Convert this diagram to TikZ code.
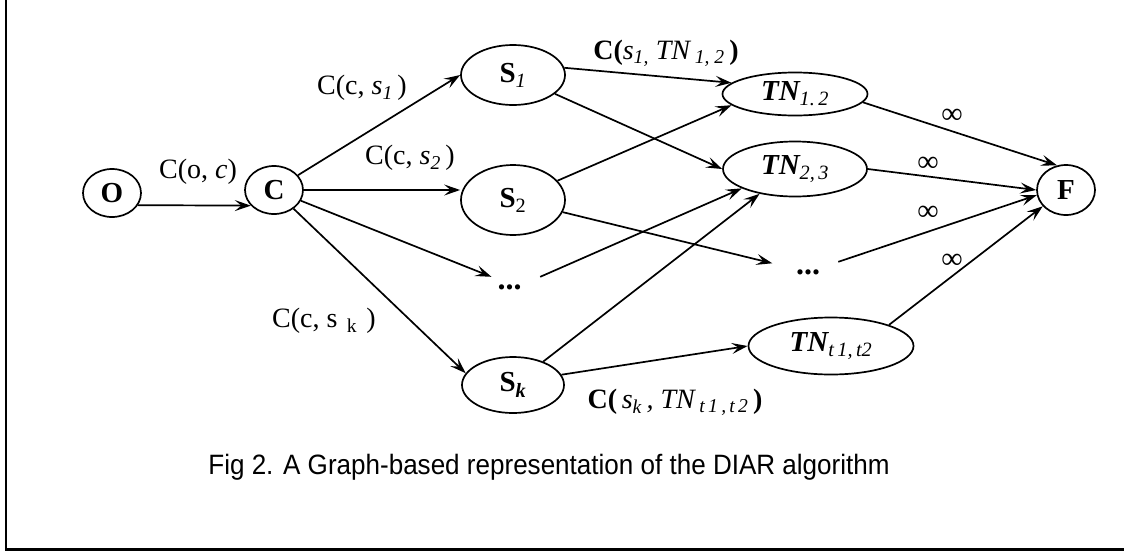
\documentclass[tikz,border=0pt]{standalone}
\usepackage{fontspec}
\setmainfont{Liberation Serif}
\newfontfamily\captionfont[FakeStretch=0.93]{Liberation Sans}
\usetikzlibrary{arrows.meta,shapes.geometric}
\begin{document}
\begin{tikzpicture}[x=1pt,y=-1pt,
  vertex/.style={draw, ellipse, line width=1.7pt, inner sep=0pt,
    font=\fontsize{29}{31}\selectfont\bfseries},
  gap/.style={inner sep=0pt, minimum height=20pt,
    font=\fontsize{32}{34}\selectfont\bfseries},
  flow/.style={line width=1.7pt, -{Stealth[length=16pt,width=11pt,inset=6.5pt]}},
  cost/.style={font=\fontsize{28}{30}\selectfont, inner sep=0pt},
  inf/.style={font=\fontsize{30}{32}\selectfont, inner sep=0pt},
]
\useasboundingbox (0,0) rectangle (1124,552);
% frame (left and bottom edges)
\draw[line width=2.6pt] (6,0) -- (6,549.5) -- (1124,549.5);

% vertices
\node[vertex, minimum width=58pt, minimum height=48pt] (O) at (112,193) {O};
\node[vertex, minimum width=58pt, minimum height=48pt] (C) at (274,190) {C};
\node[vertex, minimum width=104pt, minimum height=60pt] (S1) at (513,75) {S\textsubscript{\mdseries\itshape 1}};
\node[vertex, minimum width=104pt, minimum height=70pt] (S2) at (513,200) {S\textsubscript{\mdseries 2}};
\node[vertex, minimum width=102pt, minimum height=56pt] (Sk) at (513,385) {S\textsubscript{\itshape k}};
\node[gap, minimum width=71pt] (D1) at (517,287) {\hspace*{-15pt}...};
\node[gap, minimum width=71pt] (D2) at (808,272) {...};
\node[vertex, minimum width=145pt, minimum height=43pt] (T12) at (795,94) {\itshape TN\textsubscript{\mdseries 1.\,2}};
\node[vertex, minimum width=144pt, minimum height=55pt] (T23) at (795,169) {\itshape TN\textsubscript{\mdseries 2,\,3}};
\node[vertex, minimum width=165pt, minimum height=57pt] (Tt) at (831,346) {\itshape TN\textsubscript{\mdseries t\,1,\,t2}};
\node[vertex, minimum width=58pt, minimum height=50pt] (F) at (1066,190) {F};

% connectors
\draw[flow] (O.-25) -- (C.-146);
\draw[flow] (C) -- (S1.west);
\draw[flow] (C) -- (C -| S2.west);
\draw[flow] (C) -- (D1);
\draw[flow] (C) -- (Sk.166);
\draw[flow] (S1.8) -- (T12.170);
\draw[flow] (S1) -- (T23.west);
\draw[flow] (S2) -- (T12.190);
\draw[flow] (S2) -- (D2);
\draw[flow] (D1) -- (T23.200);
\draw[flow] (Sk) -- (T23.215);
\draw[flow] (Sk.12) -- (Tt.west);
\draw[flow] (T12.-7) -- (F.110);
\draw[flow] (T23.east) -- (F.west);
\draw[flow] (D2) -- (F.190);
\draw[flow] (Tt.20) -- (F.215);

% capacities
\node[cost] (lOC) at (198,172) {C(o, \textit{c})};
\node[cost] (lC1) at (362,88) {C(c, \textit{s\textsubscript{1}}\,)};
\node[cost] (lC2) at (410,158) {C(c, \textit{s\textsubscript{2}}\,)};
\node[cost] (lCk) at (324,321) {C(c, s\,\,\textsubscript{k}\,\,)};
\node[cost] (l1) at (666,53) {\textbf{C(}\textit{s\textsubscript{1,} TN\,\textsubscript{1, 2}}\,\textbf{)}};
\node[cost] (lk) at (675,402) {\textbf{C(}\,\textit{s\textsubscript{k}\,, TN\,\textsubscript{t\,1\,,\,t\,2}}\,\textbf{)}};
\node[inf] (i1) at (952,116) {∞};
\node[inf] (i2) at (928,164) {∞};
\node[inf] (i3) at (928,213) {∞};
\node[inf] (i4) at (952,261) {∞};

% caption
\node (cap) at (549,467) {\captionfont\fontsize{28}{30}\selectfont Fig 2. A Graph-based representation of the DIAR algorithm};
\end{tikzpicture}
\end{document}
